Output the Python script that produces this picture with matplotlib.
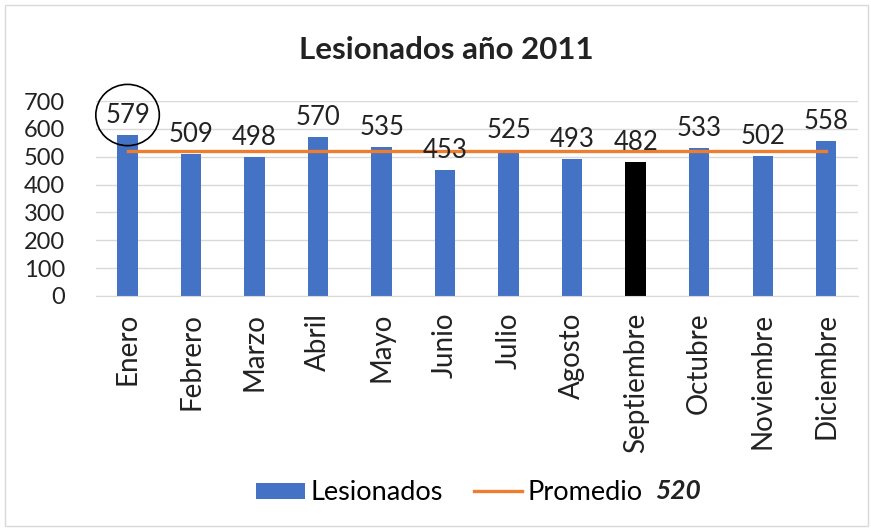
import matplotlib
matplotlib.use("Agg")
import matplotlib.pyplot as plt
from matplotlib.patches import Ellipse, Rectangle, Patch
from matplotlib.lines import Line2D

months = ["Enero", "Febrero", "Marzo", "Abril", "Mayo", "Junio", "Julio",
          "Agosto", "Septiembre", "Octubre", "Noviembre", "Diciembre"]
lesionados = [579, 509, 498, 570, 535, 453, 525, 493, 482, 533, 502, 558]
promedio = 520
highlight = "Septiembre"
circled = "Enero"

plt.rcParams['font.family'] = ['Lato', 'DejaVu Sans']

fig = plt.figure(figsize=(8.71, 5.31), dpi=100)
ax = fig.add_axes([0.110, 0.4426, 0.875, 0.367])

x = list(range(len(months)))
colors = ["#000000" if m == highlight else "#4472C4" for m in months]
bars = ax.bar(x, lesionados, width=0.32, color=colors, zorder=2)
ax.plot(x, [promedio] * len(x), color="#ED7D31", lw=2.4, zorder=3)

for xi, v in zip(x, lesionados):
    ax.annotate(str(v), (xi, v), xytext=(0, 5), textcoords="offset points",
                ha="center", va="bottom", fontsize=18.5, color="#222222", zorder=4)

ci = months.index(circled)
ax.add_patch(Ellipse((ci, 650), width=1.0, height=220, fill=False,
                     edgecolor="black", lw=1.2, clip_on=False, zorder=5))

ax.set_xlim(-0.5, len(months) - 0.5)
ax.set_ylim(0, 700)
ax.set_yticks(range(0, 701, 100))
ax.yaxis.grid(True, color="#D9D9D9", lw=1, zorder=0)
ax.set_axisbelow(True)
for s in ["top", "right", "left"]:
    ax.spines[s].set_visible(False)
ax.spines["bottom"].set_color("#D9D9D9")
ax.tick_params(axis="both", length=0, colors="#222222")
ax.tick_params(axis="y", pad=22, labelsize=17)
ax.tick_params(axis="x", pad=12)
ax.set_xticks(x)
ax.set_xticklabels(months, rotation=90, fontsize=20)

fig.text(0.512, 0.905, "Lesionados año 2011", ha="center", va="center",
         fontsize=22.5, fontweight="bold", color="#222222")

handles = [Patch(facecolor="#4472C4"), Line2D([0], [0], color="#ED7D31", lw=2.4)]
leg = fig.legend(handles, ["Lesionados", "Promedio"], loc="center",
                 bbox_to_anchor=(0.516, 0.072), ncol=2, frameon=False,
                 fontsize=19.5, handlelength=1.8, columnspacing=1.15,
                 handletextpad=0.2, handleheight=0.55)
fig.text(0.752, 0.075, "520", ha="left", va="center", fontsize=19,
         fontweight="bold", fontstyle="italic", color="#222222")

fig.patches.append(Rectangle((0.006, 0.01), 0.99, 0.98, transform=fig.transFigure,
                             fill=False, edgecolor="#D9D9D9", lw=1))

fig.savefig("out.png", dpi=100, facecolor="white")
